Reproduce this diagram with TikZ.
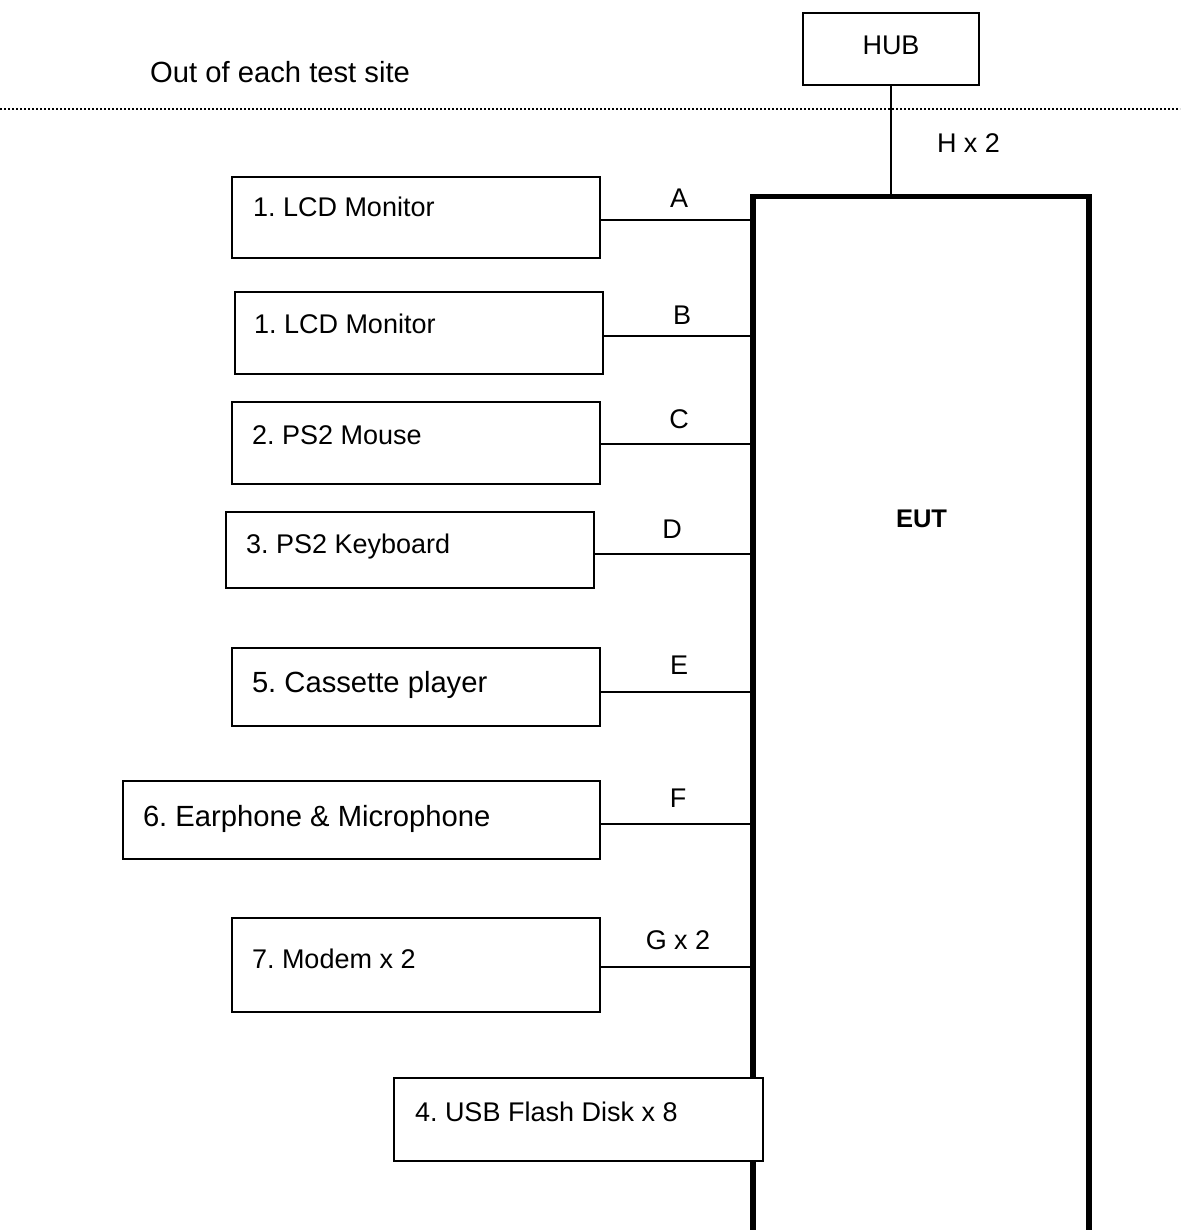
\documentclass[tikz,border=0pt]{standalone}
\usepackage{fontspec}
\setmainfont{Liberation Sans}
\frenchspacing
\newcommand{\fsmall}{\fontsize{27}{31}\selectfont}
\newcommand{\flarge}{\fontsize{29.2}{33}\selectfont}
\begin{document}
\begin{tikzpicture}[x=1pt,y=-1pt,
  box/.style={draw, line width=2pt, anchor=north west, inner sep=0pt, outer sep=0pt, fill=white},
  txt/.style={anchor=base west, inner sep=0pt, outer sep=0pt, font=\fsmall},
  lbl/.style={anchor=base, inner sep=0pt, outer sep=0pt, font=\fsmall},
  cable/.style={line width=2pt},
  eutbox/.style={draw, line width=5.5pt, anchor=north west, inner sep=0pt, outer sep=0pt, minimum width=336pt, minimum height=1060pt}]
\useasboundingbox (0,0) rectangle (1180,1230);
\clip (0,0) rectangle (1180,1230);

% site boundary
\draw[line width=1.6pt, dash pattern=on 1.6pt off 2.4pt] (0,109) -- (1180,109);
\node[anchor=base west, inner sep=0pt, font=\flarge] (site) at (150,83) {Out of each test site};

% EUT
\node[eutbox] (eut) at (753,196.5) {};
\node[anchor=base, inner sep=0pt, font=\fontsize{25.5}{30}\selectfont\bfseries] (euttxt) at (921.5,527) {EUT};

% HUB
\node[box, minimum width=176pt, minimum height=72pt] (hub) at (803,13) {};
\node[lbl] (hubtxt) at (891,55) {HUB};
\draw[cable] (hub.south) -- (hub.south |- eut.north);
\node[txt] (hlbl) at (937,153) {H x 2};

% peripheral boxes
\node[box, minimum width=368pt, minimum height=81pt] (m1) at (232,177) {};
\node[txt] (m1t) at (253,217) {1. LCD Monitor};
\node[box, minimum width=368pt, minimum height=82pt] (m2) at (235,292) {};
\node[txt] (m2t) at (254,333) {1. LCD Monitor};
\node[box, minimum width=368pt, minimum height=82pt] (ms) at (232,402) {};
\node[txt] (mst) at (252,444) {2. PS2 Mouse};
\node[box, minimum width=368pt, minimum height=76pt] (kb) at (226,512) {};
\node[txt] (kbt) at (246,553) {3. PS2 Keyboard};
\node[box, minimum width=368pt, minimum height=78pt] (cp) at (232,648) {};
\node[txt, font=\flarge] (cpt) at (252,692) {5. Cassette player};
\node[box, minimum width=477pt, minimum height=78pt] (em) at (123,781) {};
\node[txt, font=\flarge] (emt) at (143,826) {6. Earphone \& Microphone};
\node[box, minimum width=368pt, minimum height=94pt] (md) at (232,918) {};
\node[txt] (mdt) at (252,968) {7. Modem x 2};

% cables
\draw[cable] (m1.east |- 0,220) -- (eut.west |- 0,220);
\node[lbl] (la) at (679,208) {A};
\draw[cable] (m2.east |- 0,336) -- (eut.west |- 0,336);
\node[lbl] (lb) at (682,324) {B};
\draw[cable] (ms.east |- 0,444) -- (eut.west |- 0,444);
\node[lbl] (lc) at (679,428.5) {C};
\draw[cable] (kb.east |- 0,554) -- (eut.west |- 0,554);
\node[lbl] (ld) at (672,538) {D};
\draw[cable] (cp.east |- 0,692) -- (eut.west |- 0,692);
\node[lbl] (le) at (679,674) {E};
\draw[cable] (em.east |- 0,824) -- (eut.west |- 0,824);
\node[lbl] (lf) at (678,807) {F};
\draw[cable] (md.east |- 0,967) -- (eut.west |- 0,967);
\node[lbl] (lg) at (678,949) {G x 2};

% USB box over EUT edge
\node[box, minimum width=369pt, minimum height=83pt] (usb) at (394,1078) {};
\node[txt] (usbt) at (415,1121) {4. USB Flash Disk x 8};
\end{tikzpicture}
\end{document}
